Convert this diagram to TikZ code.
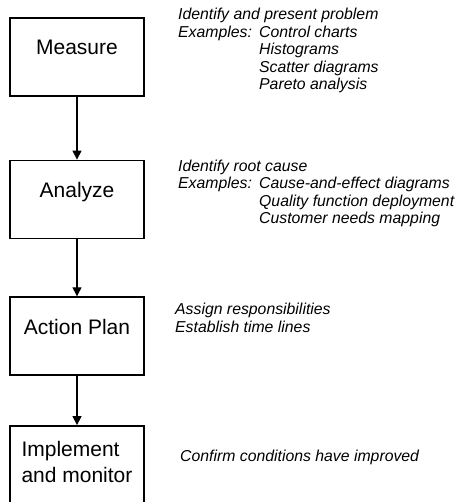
\documentclass[tikz,border=0pt]{standalone}
\usepackage{fontspec}
\setmainfont{Liberation Sans}
\usetikzlibrary{arrows.meta,positioning}
\tikzset{
    stepBox/.style={
        rectangle,
        draw,
        line width=1.8pt,
        minimum width=134pt,
        minimum height=78pt,
        inner sep=0pt
    },
    stepText/.style={font=\fontsize{21}{26}\selectfont, anchor=base, inner sep=0pt},
    noteText/.style={font=\fontsize{15.8}{17.5}\selectfont\itshape, anchor=base west, inner sep=0pt},
    flowArrow/.style={-{Triangle[width=9pt,length=9pt]}, line width=1.3pt}
}

\begin{document}
\begin{tikzpicture}[x=1pt, y=-1pt]
\useasboundingbox (0,0) rectangle (457,502);

% Steps
\node[stepBox] (measure) at (77,57.2) {};
\node[stepBox] (analyze) at (77,199.5) {};
\node[stepBox] (plan) at (77,336.2) {};
\node[stepBox] (implement) at (77,465) {};

\node[stepText] (measureText) at ([yshift=-37pt]measure.north) {Measure};
\node[stepText] (analyzeText) at ([yshift=-38pt]analyze.north) {Analyze};
\node[stepText] (planText) at ([yshift=-38pt]plan.north) {Action Plan};
\node[stepText] (implementText) at ([yshift=-31pt]implement.north)
    {\begin{tabular}[t]{@{}l@{}}Implement\\and monitor\end{tabular}};

% Arrows
\draw[flowArrow] (measure) -- (analyze);
\draw[flowArrow] (analyze) -- (plan);
\draw[flowArrow] (plan) -- (implement);

% Notes
\node[noteText] (measureNote) at (178,20) {\begin{tabular}[t]{@{}p{81pt}@{}l@{}}
    \multicolumn{2}{@{}l@{}}{Identify and present problem}\\
    Examples: & Control charts\\
    & Histograms\\
    & Scatter diagrams\\
    & Pareto analysis
\end{tabular}};
\node[noteText] (analyzeNote) at (178,171.5) {\begin{tabular}[t]{@{}p{81pt}@{}l@{}}
    \multicolumn{2}{@{}l@{}}{Identify root cause}\\
    Examples: & Cause-and-effect diagrams\\
    & Quality function deployment\\
    & Customer needs mapping
\end{tabular}};
\node[noteText] (planNote) at (175,314.5) {\begin{tabular}[t]{@{}l@{}}
    Assign responsibilities\\
    Establish time lines
\end{tabular}};
\node[noteText] (implementNote) at (180,461.5) {Confirm conditions have improved};
\end{tikzpicture}
\end{document}
